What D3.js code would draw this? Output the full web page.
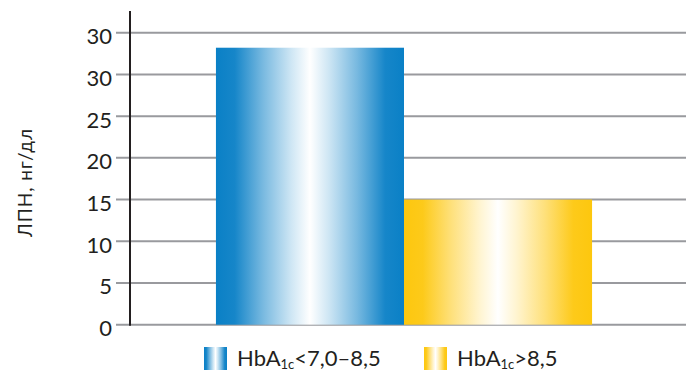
<!DOCTYPE html>
<html>
<head>
<meta charset="utf-8">
<script src="https://cdn.jsdelivr.net/npm/d3@7"></script>
<style>
  html, body { margin: 0; padding: 0; background: #ffffff; }
  svg { display: block; font-family: Lato, "Open Sans", sans-serif; }
</style>
</head>
<body>
<svg id="chart" width="686" height="371"></svg>
<script>
// Groups, their values and axis tick labels
const groups = ["lo", "hi"];
const values = [33.2, 15.0];
const groupColors = ["#0a80c6", "#fdc70e"];
const tickValues = [0, 5, 10, 15, 20, 25, 30, 35];
const tickLabels = ["0", "5", "10", "15", "20", "25", "30", "30"];
const yTitle = "ЛПН, нг/дл";
const legendMain = ["HbA", "HbA"];
const legendSub = ["1c", "1c"];
const legendTail = ["<7,0–8,5", ">8,5"];

const W = 686, H = 371;
const svg = d3.select("#chart");

const y = d3.scaleLinear().domain([0, 35]).range([324.7, 32.7]);
const x = d3.scaleBand().domain(groups).range([130, 678]).paddingInner(0).paddingOuter(0.457);

// Horizontal gradients: saturated edges fading to white in the middle
const defs = svg.append("defs");
function makeGradient(id, c) {
  const g = defs.append("linearGradient").attr("id", id)
    .attr("x1", "0%").attr("x2", "100%").attr("y1", "0%").attr("y2", "0%");
  const white = d3.color("#ffffff");
  const base = d3.color(c);
  const mix = t => d3.interpolateRgb(base, white)(t);
  const stops = [[0, 0], [0.1, 0.05], [0.25, 0.45], [0.4, 0.8], [0.5, 1], [0.6, 0.8], [0.75, 0.45], [0.9, 0.05], [1, 0]];
  stops.forEach(([o, t]) => g.append("stop").attr("offset", o).attr("stop-color", mix(t)));
}
groupColors.forEach((c, i) => makeGradient("grad" + i, c));

// Grid lines (also serve as ticks, extending left of the axis)
svg.append("g").selectAll("line").data(tickValues).join("line")
  .attr("x1", 116).attr("x2", W)
  .attr("y1", d => y(d)).attr("y2", d => y(d))
  .attr("stroke", "#999a9e").attr("stroke-width", 2);

// Tick labels
svg.append("g").selectAll("text").data(tickValues).join("text")
  .attr("x", 112).attr("y", d => y(d) + 3)
  .attr("text-anchor", "end").attr("dominant-baseline", "central")
  .attr("font-size", 22).attr("fill", "#231f20")
  .text((d, i) => tickLabels[i]);

// Bars
svg.append("g").selectAll("rect").data(groups).join("rect")
  .attr("x", d => x(d)).attr("width", x.bandwidth())
  .attr("y", (d, i) => y(values[i]))
  .attr("height", (d, i) => y(0) - y(values[i]))
  .attr("fill", (d, i) => `url(#grad${i})`);

// Vertical axis line
svg.append("line").attr("x1", 130).attr("x2", 130).attr("y1", 11).attr("y2", y(0) + 1)
  .attr("stroke", "#231f20").attr("stroke-width", 2);

// Y axis title
svg.append("text")
  .attr("transform", "translate(32,182.5) rotate(-90)")
  .attr("text-anchor", "middle").attr("font-size", 19).attr("letter-spacing", 1)
  .attr("fill", "#231f20")
  .text(yTitle);

// Legend
const legendX = [204, 424];
const legend = svg.append("g");
groups.forEach((g, i) => {
  const lg = legend.append("g").attr("transform", `translate(${legendX[i]},347)`);
  lg.append("rect").attr("width", 23).attr("height", 23).attr("fill", `url(#grad${i})`);
  const t = lg.append("text").attr("x", 33).attr("y", 18.5)
    .attr("font-size", 22).attr("fill", "#231f20");
  t.append("tspan").text(legendMain[i]);
  t.append("tspan").attr("font-size", 13).attr("dy", 3).text(legendSub[i]);
  t.append("tspan").attr("dy", -3).text(legendTail[i]);
});
</script>
</body>
</html>
